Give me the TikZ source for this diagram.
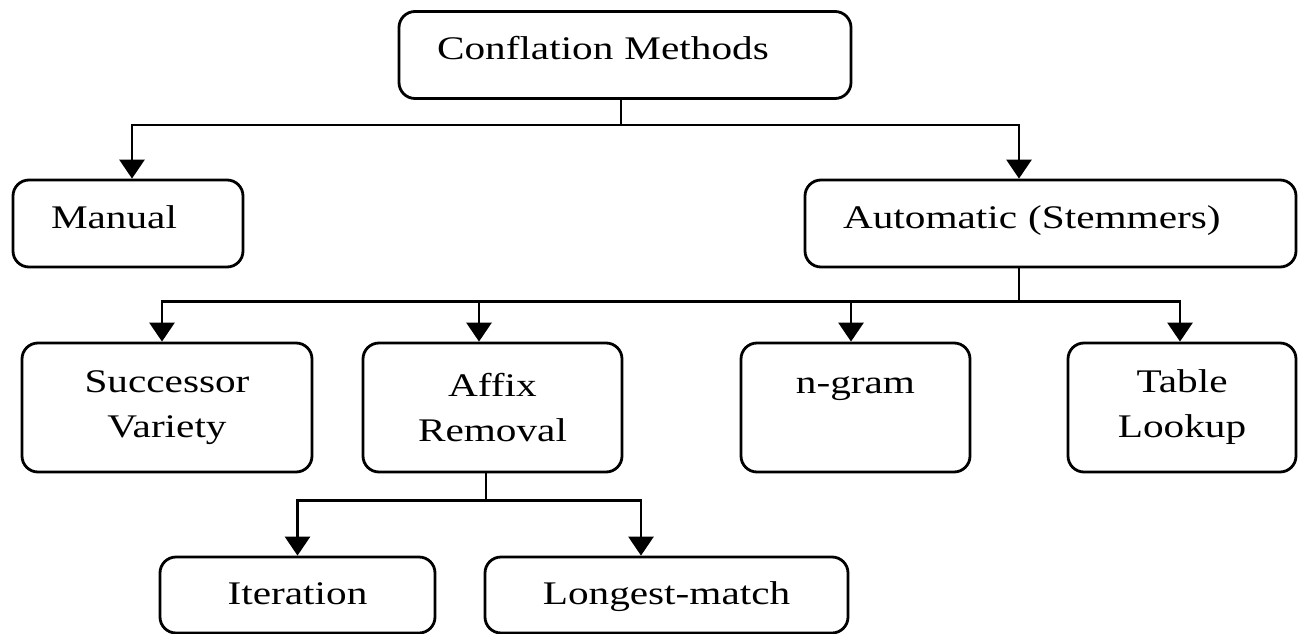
\documentclass[tikz,border=0pt]{standalone}
\usepackage{fontspec}
\setmainfont[FakeStretch=1.25]{Liberation Serif}
\usetikzlibrary{arrows.meta}

\begin{document}
\begin{tikzpicture}[x=1pt, y=-1pt,
  box/.style={draw, line width=2.8pt, rounded corners=16pt, inner sep=0pt,
    font=\fontsize{33}{45}\selectfont},
  topbox/.style={box, align=left, inner xsep=38pt, minimum height=87pt,
    text height=22pt, text depth=13pt},
  midbox/.style={box, align=center, minimum height=129pt},
  lowbox/.style={box, align=center, minimum height=76pt,
    text height=22pt, text depth=4pt},
  link/.style={line width=2.8pt},
  flow/.style={link, -{Triangle[length=19pt, width=25pt]}}]
\useasboundingbox (0,0) rectangle (1298,634);

% Top level
\node[topbox, text width=376pt] (conf) at (625,55) {Conflation Methods};
\node[topbox, text width=154pt] (manual) at (128,223.5) {Manual};
\node[topbox, text width=415pt] (auto) at (1050.5,223.5) {Automatic (Stemmers)};

% Kinds of stemmers
\node[midbox, minimum width=290pt] (succ) at (167,407.5) {Successor\\Variety};
\node[midbox, minimum width=259pt] (affix) at (492.5,407.5) {Affix\\Removal};
\node[midbox, minimum width=229pt, text height=22pt, text depth=51pt] (ngram) at (855.5,407.5) {n-gram};
\node[midbox, minimum width=228pt] (table) at (1182,407.5) {Table\\Lookup};

% Affix removal
\node[lowbox, minimum width=275pt] (iter) at (297.5,595) {Iteration};
\node[lowbox, minimum width=363pt] (longest) at (666.5,595) {Longest-match};

% Connectors
\draw[link] ([xshift=-4pt]conf.south) -- ++(0,25) coordinate (b1);
\draw[flow] (b1) -| ([xshift=4pt]manual.north);
\draw[flow] (b1) -| ([xshift=-31.5pt]auto.north);

\draw[link] ([xshift=-31.5pt]auto.south) -- ++(0,33) coordinate (b2);
\draw[flow] (b2) -| ([xshift=-5pt]succ.north);
\draw[flow] (b2) -| ([xshift=-13.5pt]affix.north);
\draw[flow] (b2) -| ([xshift=-4.5pt]ngram.north);
\draw[flow] (b2) -| ([xshift=-2pt]table.north);

\draw[link] ([xshift=-6.5pt]affix.south) -- ++(0,27) coordinate (b3);
\draw[flow] (b3) -| (iter.north);
\draw[flow] (b3) -| ([xshift=-25.5pt]longest.north);
\end{tikzpicture}
\end{document}
